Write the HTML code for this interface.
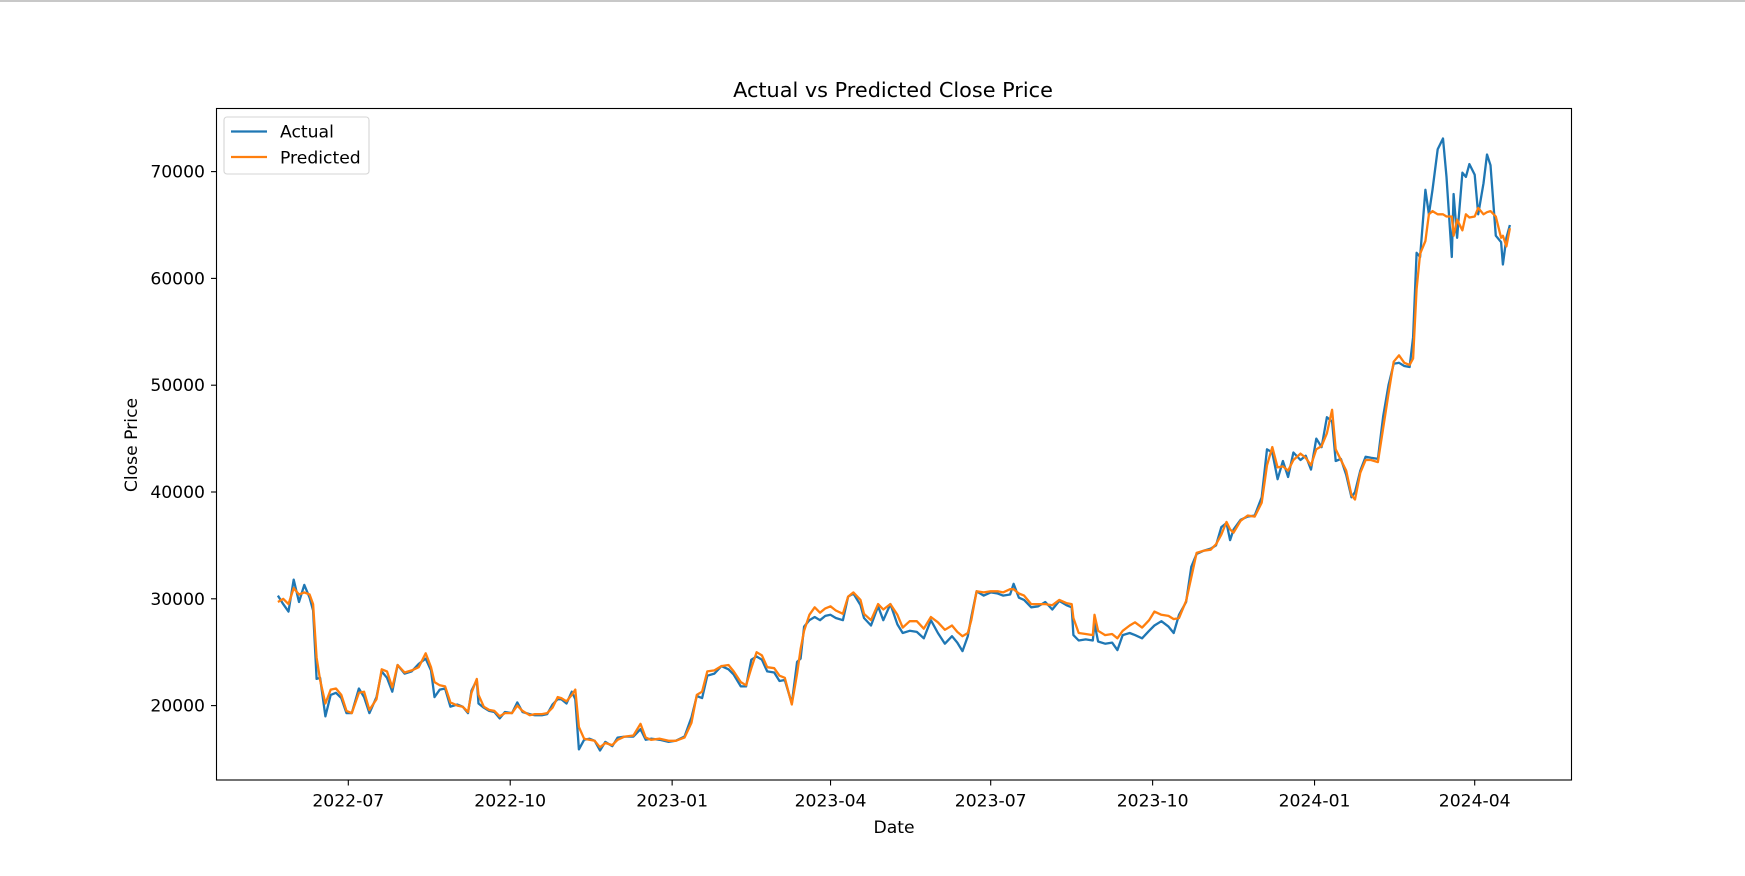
<!DOCTYPE html>
<html><head><meta charset="utf-8"><style>
html,body{margin:0;padding:0;background:#fff;width:1745px;height:876px;overflow:hidden}
svg text{font-family:"DejaVu Sans","Liberation Sans",sans-serif;fill:#000}
</style></head><body>
<svg id="chart" width="1745" height="876" xmlns="http://www.w3.org/2000/svg">
<rect x="0" y="0" width="1745" height="2" fill="#c8c8c8"/>
<text x="893" y="97" font-size="20.8" text-anchor="middle">Actual vs Predicted Close Price</text>
<g id="plot"></g>
<g id="xticks"></g>
<g id="yticks"></g>
<rect x="216.5" y="108.5" width="1355" height="671.5" fill="none" stroke="#000" stroke-width="1.1"/>
<text x="894" y="833" font-size="17.2" text-anchor="middle">Date</text>
<text x="0" y="0" font-size="17.2" text-anchor="middle" transform="translate(137,445) rotate(-90)">Close Price</text>
<g>
<rect x="224" y="117" width="145" height="57" rx="3" fill="#fff" fill-opacity="0.8" stroke="#d6d6d6" stroke-width="1.1"/>
<line x1="231" y1="131.5" x2="267" y2="131.5" stroke="#1f77b4" stroke-width="2.3"/>
<text x="280" y="137.5" font-size="17.2">Actual</text>
<line x1="231" y1="157" x2="267" y2="157" stroke="#ff7f0e" stroke-width="2.3"/>
<text x="280" y="163.5" font-size="17.2">Predicted</text>
</g>
</svg>
<script>
const dates = ["2022-05-22","2022-05-25","2022-05-28","2022-05-31","2022-06-03","2022-06-06","2022-06-09","2022-06-11","2022-06-13","2022-06-15","2022-06-18","2022-06-21","2022-06-24","2022-06-27","2022-06-30","2022-07-03","2022-07-07","2022-07-10","2022-07-13","2022-07-17","2022-07-20","2022-07-23","2022-07-26","2022-07-29","2022-08-02","2022-08-06","2022-08-10","2022-08-14","2022-08-17","2022-08-19","2022-08-22","2022-08-25","2022-08-28","2022-09-01","2022-09-04","2022-09-07","2022-09-09","2022-09-12","2022-09-13","2022-09-16","2022-09-19","2022-09-22","2022-09-25","2022-09-28","2022-10-02","2022-10-05","2022-10-08","2022-10-12","2022-10-15","2022-10-19","2022-10-22","2022-10-25","2022-10-28","2022-10-30","2022-11-02","2022-11-05","2022-11-07","2022-11-09","2022-11-12","2022-11-15","2022-11-18","2022-11-21","2022-11-24","2022-11-28","2022-12-01","2022-12-05","2022-12-10","2022-12-14","2022-12-17","2022-12-20","2022-12-25","2022-12-30","2023-01-03","2023-01-08","2023-01-12","2023-01-15","2023-01-18","2023-01-21","2023-01-25","2023-01-29","2023-02-02","2023-02-05","2023-02-09","2023-02-12","2023-02-15","2023-02-18","2023-02-21","2023-02-24","2023-02-28","2023-03-03","2023-03-06","2023-03-10","2023-03-13","2023-03-15","2023-03-17","2023-03-20","2023-03-23","2023-03-26","2023-03-29","2023-04-01","2023-04-04","2023-04-08","2023-04-11","2023-04-14","2023-04-18","2023-04-20","2023-04-24","2023-04-28","2023-05-01","2023-05-05","2023-05-09","2023-05-12","2023-05-16","2023-05-20","2023-05-24","2023-05-28","2023-06-01","2023-06-05","2023-06-09","2023-06-12","2023-06-15","2023-06-18","2023-06-20","2023-06-23","2023-06-27","2023-07-01","2023-07-05","2023-07-08","2023-07-12","2023-07-14","2023-07-17","2023-07-20","2023-07-24","2023-07-28","2023-08-01","2023-08-05","2023-08-09","2023-08-13","2023-08-16","2023-08-17","2023-08-20","2023-08-24","2023-08-28","2023-08-29","2023-08-31","2023-09-04","2023-09-08","2023-09-11","2023-09-14","2023-09-18","2023-09-21","2023-09-25","2023-09-29","2023-10-02","2023-10-06","2023-10-10","2023-10-13","2023-10-16","2023-10-20","2023-10-23","2023-10-26","2023-10-30","2023-11-03","2023-11-06","2023-11-09","2023-11-12","2023-11-14","2023-11-16","2023-11-20","2023-11-24","2023-11-28","2023-12-02","2023-12-05","2023-12-08","2023-12-11","2023-12-14","2023-12-17","2023-12-20","2023-12-24","2023-12-27","2023-12-30","2024-01-02","2024-01-05","2024-01-08","2024-01-11","2024-01-13","2024-01-16","2024-01-19","2024-01-22","2024-01-24","2024-01-27","2024-01-30","2024-02-02","2024-02-06","2024-02-09","2024-02-12","2024-02-15","2024-02-18","2024-02-21","2024-02-24","2024-02-26","2024-02-28","2024-03-01","2024-03-04","2024-03-06","2024-03-08","2024-03-11","2024-03-14","2024-03-16","2024-03-19","2024-03-20","2024-03-22","2024-03-25","2024-03-27","2024-03-29","2024-04-01","2024-04-03","2024-04-06","2024-04-08","2024-04-10","2024-04-13","2024-04-16","2024-04-17","2024-04-19","2024-04-21"];
const actual = [30300,29500,28800,31800,29700,31300,30100,28900,22500,22600,19000,21000,21200,20700,19300,19300,21600,20800,19300,20800,23200,22600,21300,23800,23000,23200,23900,24400,23300,20800,21500,21600,19900,20100,19900,19300,21400,22400,20200,19800,19500,19400,18800,19400,19300,20300,19400,19200,19100,19100,19200,20100,20600,20600,20200,21300,20600,15900,16800,16900,16700,15800,16600,16200,17000,17100,17100,17800,16800,16900,16800,16600,16700,17100,18900,20900,20700,22800,23000,23700,23400,22900,21800,21800,24300,24600,24300,23200,23100,22300,22400,20200,24100,24400,27400,28000,28300,28000,28400,28500,28200,28000,30200,30500,29400,28200,27500,29300,28000,29500,27600,26800,27000,26900,26300,28000,26800,25800,26500,25900,25100,26500,28300,30700,30300,30600,30500,30300,30400,31400,30100,29900,29200,29300,29700,29000,29800,29400,29200,26600,26100,26200,26100,27700,26000,25800,25900,25200,26600,26800,26600,26300,27000,27500,27900,27400,26800,28500,29700,33000,34200,34500,34700,35000,36700,37100,35500,36500,37400,37700,37800,39500,44000,43700,41200,42900,41400,43700,43000,43400,42100,45000,44200,47000,46600,42900,43100,41600,39500,40000,42000,43300,43200,43100,47100,50000,52000,52100,51800,51700,54500,62400,62000,68300,66000,68300,72100,73100,69500,62000,67900,63800,69900,69500,70700,69700,66000,68900,71600,70600,64000,63400,61300,63800,65000];
const predicted = [29700,30000,29500,31000,30400,30600,30400,29500,24500,22400,20200,21500,21600,21000,19500,19300,21200,21300,19600,20600,23400,23200,21700,23800,23100,23300,23600,24900,23600,22200,21900,21800,20300,20000,19900,19400,21200,22500,21000,19900,19600,19500,19000,19300,19300,20000,19500,19100,19200,19200,19300,19800,20800,20700,20400,21000,21500,18000,16900,16800,16700,16100,16500,16300,16800,17100,17200,18300,17000,16800,16900,16700,16700,17000,18400,21000,21300,23200,23300,23700,23800,23200,22200,21900,23500,25000,24700,23600,23500,22800,22600,20100,23000,25300,27000,28500,29200,28700,29100,29300,28900,28600,30200,30600,29900,28600,28000,29500,29000,29500,28500,27300,27900,27900,27200,28300,27800,27100,27500,26900,26500,26800,28000,30700,30600,30700,30700,30600,30900,30900,30500,30300,29500,29500,29500,29400,29900,29600,29500,28200,26800,26700,26600,28500,27000,26600,26700,26300,27000,27500,27800,27300,28000,28800,28500,28400,28100,28200,29800,32000,34300,34500,34600,35100,36000,37200,36500,36200,37300,37800,37700,39000,42500,44200,42300,42400,42000,43000,43600,43200,42500,44000,44300,45500,47700,44000,43000,42000,39700,39300,41800,43000,43000,42800,46000,49200,52200,52800,52100,51900,52500,59000,62300,63500,66000,66300,66000,66000,65800,65800,64000,65500,64500,66000,65700,65800,66600,66000,66200,66300,65800,63800,64000,63000,64700];
const xTickLabels = ["2022-07","2022-10","2023-01","2023-04","2023-07","2023-10","2024-01","2024-04"];
const yTickValues = [20000,30000,40000,50000,60000,70000];

const NS = "http://www.w3.org/2000/svg";
const X0 = Date.UTC(2022,6,1), PX0 = 348.3, PXD = 1.760;
function xScale(s){const p=s.split("-").map(Number);const t=Date.UTC(p[0],p[1]-1,p[2]||1);return PX0+(t-X0)/86400000*PXD;}
function yScale(v){return 705.6-(v-20000)*0.01068;}

const plot=document.getElementById("plot");
function drawLine(vals,color,name){
  const pts=dates.map((d,i)=>xScale(d).toFixed(1)+","+yScale(vals[i]).toFixed(1)).join(" ");
  const pl=document.createElementNS(NS,"polyline");
  pl.setAttribute("points",pts);pl.setAttribute("fill","none");pl.setAttribute("stroke",color);
  pl.setAttribute("stroke-width","2.3");pl.setAttribute("stroke-linejoin","round");
  
  
  plot.appendChild(pl);
}
drawLine(actual,"#1f77b4","actual-line");
drawLine(predicted,"#ff7f0e","predicted-line");

const xg=document.getElementById("xticks");
xTickLabels.forEach(l=>{
  const x=xScale(l);
  const t=document.createElementNS(NS,"line");
  t.setAttribute("x1",x);t.setAttribute("x2",x);t.setAttribute("y1",780);t.setAttribute("y2",785.5);t.setAttribute("stroke","#000");t.setAttribute("stroke-width","1.1");
  
  
  xg.appendChild(t);
  const tx=document.createElementNS(NS,"text");
  tx.setAttribute("x",x);tx.setAttribute("y",806.5);tx.setAttribute("font-size","17.2");tx.setAttribute("text-anchor","middle");tx.textContent=l;
  
  
  xg.appendChild(tx);
});
const yg=document.getElementById("yticks");
yTickValues.forEach(v=>{
  const y=yScale(v);
  const t=document.createElementNS(NS,"line");
  t.setAttribute("x1",211);t.setAttribute("x2",216.5);t.setAttribute("y1",y);t.setAttribute("y2",y);t.setAttribute("stroke","#000");t.setAttribute("stroke-width","1.1");
  
  
  yg.appendChild(t);
  const tx=document.createElementNS(NS,"text");
  tx.setAttribute("x",205);tx.setAttribute("y",y+6);tx.setAttribute("font-size","17.2");tx.setAttribute("text-anchor","end");tx.textContent=String(v);
  
  
  yg.appendChild(tx);
});
</script>
</body></html>
